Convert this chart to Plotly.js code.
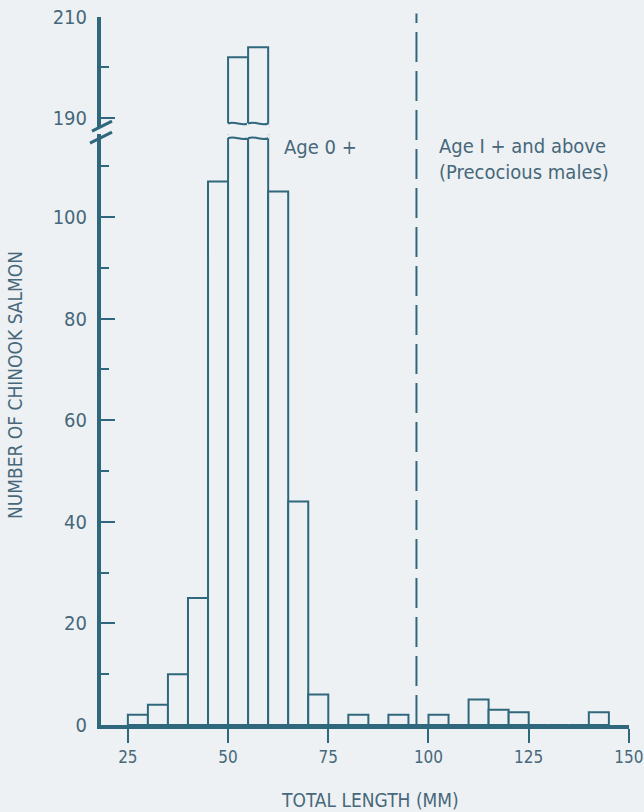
<!DOCTYPE html>
<html>
<head>
<meta charset="utf-8">
<script src="https://cdn.plot.ly/plotly-3.0.1.min.js"></script>
<style>
  html, body { margin: 0; padding: 0; background: #eef1f4; }
  #chart { width: 644px; height: 812px; }
</style>
</head>
<body>
<div id="chart"></div>
<script>
// ---- data ----
const binStart = [25, 30, 35, 40, 45, 50, 55, 60, 65, 70, 75, 80, 85, 90, 95, 100, 105, 110, 115, 120, 125, 130, 135, 140];
const counts   = [2, 4, 10, 25, 107, 202, 204, 105, 44, 6, 0, 2, 0, 2, 0, 2, 0, 5, 3, 2.5, 0, 0, 0, 2.5];
const binWidth = 5;
const xTicks = [25, 50, 75, 100, 125, 150];
const ageSplit = 97;            // dashed divider (mm)
const ageLabel0 = "Age 0 +";
const ageLabel1 = "Age I + and above<br>(Precocious males)";
const xTitle = "TOTAL LENGTH (MM)";
const yTitle = "NUMBER OF CHINOOK SALMON";

// ---- style ----
const BG = "#eef1f4";
const INK = "#2f687c";
const TXT = "#46687a";
const FONT = "'Liberation Sans Narrow', 'DejaVu Sans Condensed', 'Roboto Condensed', sans-serif";

const lowerRange = [0, 116.3];
const upperRange = [188, 210];
const lowerDomain = [0, 0.8345];
const upperDomain = [0.8432, 1];

const centers = binStart.map(b => b + binWidth / 2);
const broken = binStart.map((b, i) => counts[i] > lowerRange[1] ? i : -1).filter(i => i >= 0);

const barStyle = {
  type: "bar",
  width: binWidth,
  marker: { color: BG, line: { color: INK, width: 2 } },
  hoverinfo: "skip",
  showlegend: false
};

const traces = [
  Object.assign({}, barStyle, { x: centers, y: counts, xaxis: "x", yaxis: "y" }),
  Object.assign({}, barStyle, {
    x: broken.map(i => centers[i]),
    y: broken.map(i => counts[i]),
    xaxis: "x", yaxis: "y2"
  })
];

// wavy break shapes for broken bars
const shapes = [];
function wave(x0, x1, y, amp) {
  const w = x1 - x0;
  return `C ${x0 + w / 3},${y + amp} ${x0 + 2 * w / 3},${y - amp} ${x1},${y}`;
}
broken.forEach(i => {
  const x0 = binStart[i], x1 = binStart[i] + binWidth;
  const pad = 0.3;
  const yl = lowerRange[1] - 0.8;
  shapes.push({
    type: "path", xref: "x", yref: "y", layer: "above",
    path: `M ${x0 - pad},${yl} ${wave(x0 - pad, x1 + pad, yl, 0.6)} L ${x1 + pad},${lowerRange[1] + 1} L ${x0 - pad},${lowerRange[1] + 1} Z`,
    fillcolor: BG, line: { width: 0 }
  });
  shapes.push({
    type: "path", xref: "x", yref: "y", layer: "above",
    path: `M ${x0},${yl} ${wave(x0, x1, yl, 0.6)}`,
    line: { color: INK, width: 2 }
  });
  const yu = upperRange[0] + 0.9;
  shapes.push({
    type: "path", xref: "x", yref: "y2", layer: "above",
    path: `M ${x0 - pad},${yu} ${wave(x0 - pad, x1 + pad, yu, 0.6)} L ${x1 + pad},${upperRange[0] - 1} L ${x0 - pad},${upperRange[0] - 1} Z`,
    fillcolor: BG, line: { width: 0 }
  });
  shapes.push({
    type: "path", xref: "x", yref: "y2", layer: "above",
    path: `M ${x0},${yu} ${wave(x0, x1, yu, 0.6)}`,
    line: { color: INK, width: 2 }
  });
});

// dashed age divider
shapes.push({
  type: "line", xref: "x", yref: "paper",
  x0: ageSplit, x1: ageSplit, y0: 0, y1: 1.005,
  line: { color: INK, width: 2, dash: "30px,9px" }
});

// axis break slashes
[[-9, 3, 11, 13], [-11, -9, 11, 2]].forEach(s => {
  shapes.push({
    type: "line", xref: "paper", yref: "paper",
    xsizemode: "pixel", ysizemode: "pixel",
    xanchor: 0, yanchor: lowerDomain[1],
    x0: s[0], y0: s[1], x1: s[2], y1: s[3],
    line: { color: INK, width: 3 }
  });
});

const axisCommon = {
  showgrid: false, zeroline: false, showline: true,
  linecolor: INK, linewidth: 4,
  ticks: "inside", ticklen: 14, tickwidth: 2, tickcolor: INK,
  ticklabelstandoff: 6,
  tickfont: { family: FONT, size: 20, color: TXT },
  fixedrange: true
};

const layout = {
  width: 644, height: 812,
  paper_bgcolor: BG, plot_bgcolor: "rgba(0,0,0,0)",
  margin: { l: 101, r: 15, t: 17, b: 87 },
  bargap: 0,
  barmode: "overlay",
  font: { family: FONT, color: TXT },
  xaxis: {
    range: [18.3, 150.02], tickvals: xTicks,
    showgrid: false, zeroline: false, showline: true,
    linecolor: INK, linewidth: 4,
    ticks: "outside", ticklen: 14, tickwidth: 2, tickcolor: INK,
    tickfont: { family: FONT, size: 17, color: TXT },
    ticklabeloverflow: "allow",
    anchor: "y", fixedrange: true, automargin: false
  },
  yaxis: Object.assign({}, axisCommon, {
    domain: lowerDomain, range: lowerRange, dtick: 20, tick0: 0, anchor: "x",
    minor: { dtick: 10, tick0: 0, ticks: "inside", ticklen: 8, tickwidth: 2, tickcolor: INK }
  }),
  yaxis2: Object.assign({}, axisCommon, {
    domain: upperDomain, range: upperRange, tickvals: [190, 210], anchor: "x",
    minor: { tickvals: [200], ticks: "inside", ticklen: 8, tickwidth: 2, tickcolor: INK }
  }),
  shapes: shapes,
  annotations: [
    { xref: "x", yref: "y", x: 63.4, y: 113.8, xanchor: "left", yanchor: "middle",
      text: ageLabel0, showarrow: false, font: { family: FONT, size: 20, color: TXT } },
    { xref: "x", yref: "y", x: 102.2, y: 111.5, xanchor: "left", yanchor: "middle", align: "left",
      text: ageLabel1, showarrow: false, font: { family: FONT, size: 20, color: TXT } },
    { xref: "paper", yref: "paper", x: 0.509, y: -0.106, xanchor: "center", yanchor: "middle",
      text: xTitle, showarrow: false, font: { family: FONT, size: 19, color: TXT } },
    { xref: "paper", yref: "paper", x: -0.163, y: 0.48, xanchor: "center", yanchor: "middle",
      textangle: -90, text: yTitle, showarrow: false, font: { family: FONT, size: 19, color: TXT } }
  ]
};

Plotly.newPlot("chart", traces, layout, { displayModeBar: false, staticPlot: true });
</script>
</body>
</html>
